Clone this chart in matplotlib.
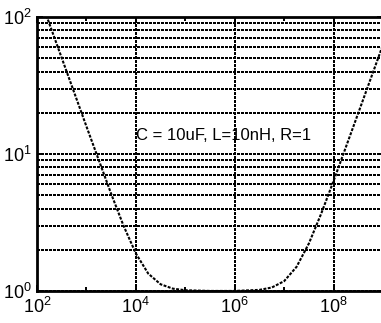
import matplotlib
matplotlib.use("Agg")
import matplotlib.pyplot as plt

plt.rcParams['font.family'] = ['Liberation Sans', 'DejaVu Sans']
plt.rcParams['mathtext.fontset'] = 'custom'
plt.rcParams['mathtext.rm'] = 'Liberation Sans'
plt.rcParams['mathtext.it'] = 'Liberation Sans:italic'

# frequency (Hz) and impedance magnitude
freq = [1e2, 3.16e2, 1e3, 3.16e3, 5.62e3, 1e4, 1.78e4, 3.16e4, 5.62e4, 1e5,
        3.16e5, 1e6, 3.16e6, 5.62e6, 1e7, 1.78e7, 3.16e7, 5.62e7, 1e8,
        3.16e8, 1e9]
zmag = [159, 50.3, 15.9, 5.13, 3.0, 1.88, 1.34, 1.12, 1.04, 1.013,
        1.001, 1.001, 1.019, 1.06, 1.18, 1.50, 2.22, 3.67, 6.36,
        19.9, 62.8]

x_major = [1e2, 1e4, 1e6, 1e8]
x_minor = [1e3, 1e5, 1e7]
x_labels = [r'$\mathregular{10^{2}}$', r'$\mathregular{10^{4}}$',
            r'$\mathregular{10^{6}}$', r'$\mathregular{10^{8}}$']
y_major = [1, 10, 100]
y_minor = [2, 3, 4, 5, 6, 7, 8, 9, 20, 30, 40, 50, 60, 70, 80, 90]
y_labels = [r'$\mathregular{10^{0}}$', r'$\mathregular{10^{1}}$',
            r'$\mathregular{10^{2}}$']
note = 'C = 10uF, L=10nH, R=1'

dots = (0, (1.4, 0.7))

fig = plt.figure(figsize=(3.81, 3.23), dpi=100)
ax = fig.add_axes([37 / 381, 32 / 323, 346 / 381, 274 / 323])

ax.loglog(freq, zmag, color='black', lw=1.5, linestyle=dots)
ax.set_xlim(1e2, 1e9)
ax.set_ylim(1, 100)

ax.set_xticks(x_major)
ax.set_xticklabels(x_labels, fontsize=13)
ax.set_xticks(x_minor, minor=True)
ax.set_xticklabels([], minor=True)
ax.set_yticks(y_major)
ax.set_yticklabels(y_labels, fontsize=13)
ax.set_yticks(y_minor, minor=True)
ax.set_yticklabels([], minor=True)

ax.tick_params(which='both', direction='in', top=True, right=True,
               colors='black', width=1.4)
ax.tick_params(which='major', length=4, pad=4)
ax.tick_params(which='minor', length=3)
ax.tick_params(axis='y', which='minor', length=0)

ax.grid(True, which='major', axis='both', color='black', lw=1.5,
        linestyle=dots, antialiased=False)
ax.grid(True, which='minor', axis='y', color='black', lw=1.5,
        linestyle=dots, antialiased=False)

for s in ax.spines.values():
    s.set_linewidth(2)

ax.text(1e4, 13.6, note, fontsize=12, ha='left', va='center')

fig.savefig('out.png', dpi=100)
